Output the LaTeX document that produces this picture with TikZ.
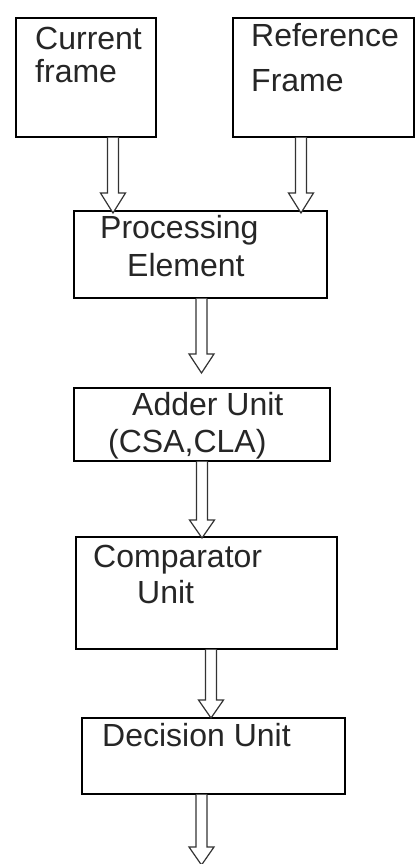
\documentclass[tikz,border=0pt]{standalone}
\usepackage{fontspec}
\setmainfont{Liberation Sans}
\usetikzlibrary{calc}
\tikzset{
  box/.style={draw=black, line width=1.6pt, rectangle, inner sep=0pt, anchor=north west},
  lbl/.style={anchor=base west, inner sep=0pt, text=black!85, font=\fontsize{32}{38}\selectfont},
  blockarrow/.style={draw=black!80, line width=1.2pt, fill=white, line join=miter}
}
\newcommand\blockarrow[3]{%
  \draw[blockarrow] let \p1=#1, \p2=#2 in
    (\x2-5.5pt,\y1) -- (\x2-5.5pt,\y2+#3) -- (\x2-12.5pt,\y2+#3) -- (\x2,\y2)
    -- (\x2+12.5pt,\y2+#3) -- (\x2+5.5pt,\y2+#3) -- (\x2+5.5pt,\y1);}
\begin{document}
\begin{tikzpicture}[x=1pt,y=-1pt]
\useasboundingbox[fill=white] (0,0) rectangle (415,864);
% boxes
\node[box, minimum width=140pt, minimum height=119pt] (cur) at (15,17) {};
\node[box, minimum width=181pt, minimum height=119pt] (ref) at (232,17) {};
\node[box, minimum width=253pt, minimum height=87pt] (pe) at (73,210) {};
\node[box, minimum width=256pt, minimum height=73pt] (add) at (73,387) {};
\node[box, minimum width=261pt, minimum height=112pt] (cmp) at (75,536) {};
\node[box, minimum width=263pt, minimum height=76pt] (dec) at (81,717) {};
% labels
\node[lbl] (tcur1) at (35,50) {Current};
\node[lbl] (tcur2) at (35,83) {frame};
\node[lbl] (tref1) at (251,47) {Reference};
\node[lbl] (tref2) at (251,92) {Frame};
\node[lbl] (tpe1) at (100,238) {Processing};
\node[lbl] (tpe2) at (127,276) {Element};
\node[lbl] (tadd1) at (132,415) {Adder Unit};
\node[lbl] (tadd2) at (108,452) {(CSA,CLA)};
\node[lbl] (tcmp1) at (93,567) {Comparator};
\node[lbl] (tcmp2) at (137,603) {Unit};
\node[lbl] (tdec) at (102,746) {Decision Unit};
% arrow tips
\coordinate (t1) at (113,213);
\coordinate (t2) at (301,213);
\coordinate (t3) at (201.5,373);
\coordinate (t4) at (202,538);
\coordinate (t5) at (211,718);
\coordinate (t6) at (201.5,865);
% arrows
\blockarrow{(cur.south -| t1)}{(t1)}{20pt}
\blockarrow{(ref.south -| t2)}{(t2)}{20pt}
\blockarrow{(pe.south -| t3)}{(t3)}{19pt}
\blockarrow{(add.south -| t4)}{(t4)}{18pt}
\blockarrow{(cmp.south -| t5)}{(t5)}{18pt}
\blockarrow{(dec.south -| t6)}{(t6)}{18pt}
\end{tikzpicture}
\end{document}
